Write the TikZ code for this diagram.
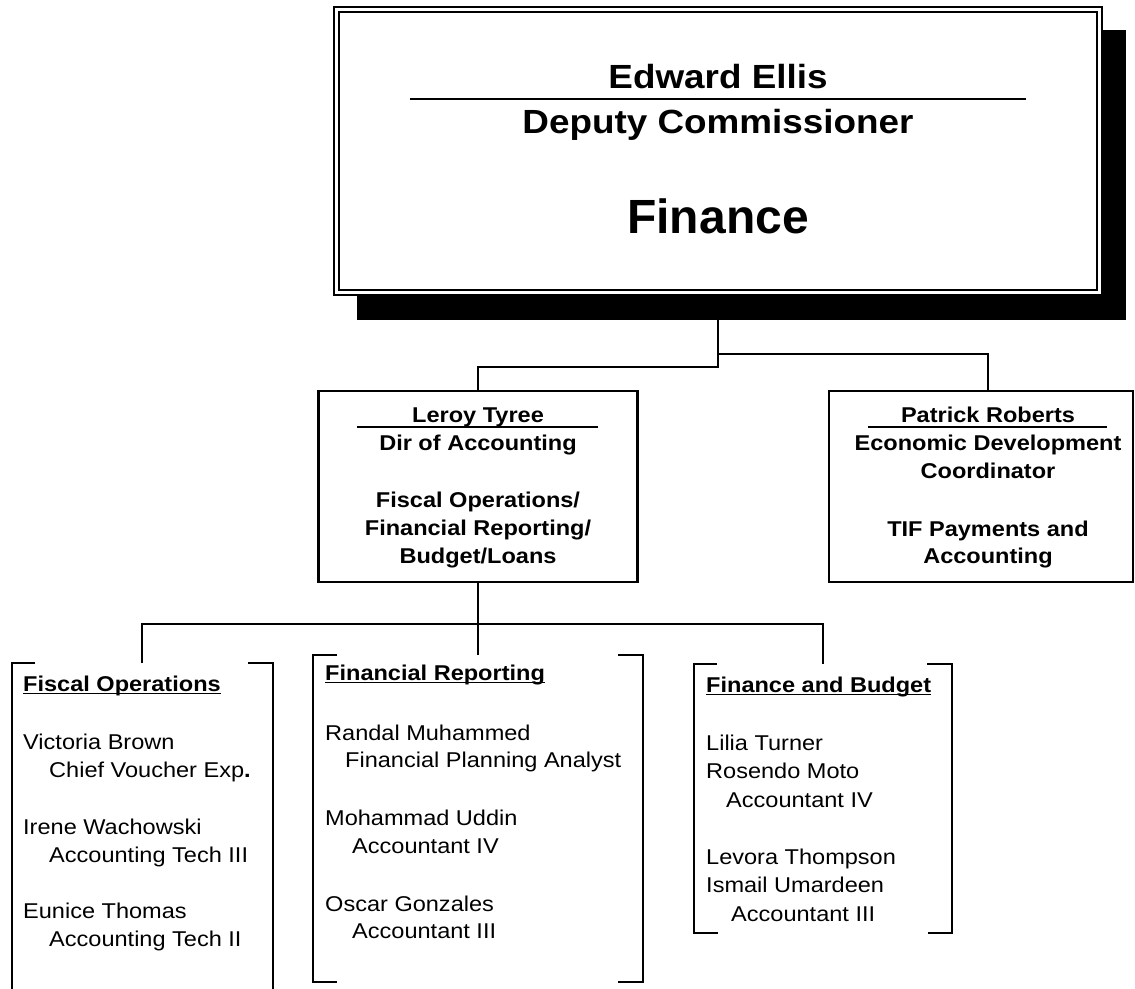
\documentclass[tikz,border=0pt]{standalone}
\usepackage{fontspec}
\setmainfont{Liberation Sans}
\newfontfamily\wf[FakeStretch=1.1]{Liberation Sans}
\begin{document}
\begin{tikzpicture}[x=1pt,y=-1pt,
  ln/.style={line width=2.2pt},
  rl/.style={line width=1.5pt},
  orgbox/.style={draw, line width=2.2pt, fill=white, inner sep=0pt, outer sep=0pt},
  bt/.style={inner sep=0pt, anchor=base, font=\wf\bfseries\fontsize{21.4}{24}\selectfont},
  ht/.style={inner sep=0pt, anchor=base west, font=\wf\bfseries\fontsize{21.4}{24}\selectfont},
  rt/.style={inner sep=0pt, anchor=base west, font=\wf\fontsize{21.4}{24}\selectfont},
  tt/.style={inner sep=0pt, anchor=base, font=\wf\bfseries\fontsize{33.5}{36}\selectfont}]
\useasboundingbox (0,0) rectangle (1135,988);

% ---------- boxes ----------
\node[orgbox, minimum width=319pt, minimum height=191pt] (leroy) at (478,486.5) {};
\node[orgbox, minimum width=304pt, minimum height=191pt] (patrick) at (981,486.5) {};

% ---------- connectors ----------
\coordinate (jl) at (478,367);
\coordinate (jr) at (988,354);
\coordinate (jb) at (478,624);
\coordinate (g1) at (142,663);
\coordinate (g2) at (478,655);
\coordinate (g3) at (823,664);
\coordinate (tb) at (718,300);
\draw[ln] (tb) |- (jl) -- (leroy.north);
\draw[ln] (tb) |- (jr) -- (jr |- patrick.north);
\draw[ln] (leroy.south) -- (jb) -- (g2);
\draw[ln] (g1) |- (jb) -| (g3);

% ---------- top box ----------
\fill (357,30) rectangle (1126,320);
\node[draw, double, line width=1.8pt, double distance=3pt, fill=white,
      minimum width=763pt, minimum height=283pt, inner sep=0pt, outer sep=0pt] (top) at (718,151) {};
\node[tt] (t1) at (718,88) {Edward Ellis};
\draw[rl] (410,99) -- (1026,99);
\node[tt] (t2) at (718,133) {Deputy Commissioner};
\node[inner sep=0pt, anchor=base, font=\bfseries\fontsize{48}{52}\selectfont] (t3) at (718,233) {Finance};

% ---------- Leroy box text ----------
\node[bt] (l1) at (478,422) {Leroy Tyree};
\draw[rl] (357,427) -- (598,427);
\node[bt] (l2) at (478,450) {Dir of Accounting};
\node[bt] (l3) at (478,507) {Fiscal Operations/};
\node[bt] (l4) at (478,535) {Financial Reporting/};
\node[bt] (l5) at (478,563) {Budget/Loans};

% ---------- Patrick box text ----------
\node[bt] (p1) at (988,422) {Patrick Roberts};
\draw[rl] (868,427) -- (1107,427);
\node[bt] (p2) at (988,450) {Economic Development};
\node[bt] (p3) at (988,478) {Coordinator};
\node[bt] (p4) at (988,536) {TIF Payments and};
\node[bt] (p5) at (988,563) {Accounting};

% ---------- brackets ----------
\draw[line width=2pt] (35,663) -- (12,663) -- (12,990);
\draw[line width=2pt] (248,663) -- (273,663) -- (273,990);
\draw[line width=2pt] (337,655) -- (313,655) -- (313,982) -- (337,982);
\draw[line width=2pt] (618,655) -- (643,655) -- (643,982) -- (618,982);
\draw[line width=2pt] (717,664) -- (694,664) -- (694,933) -- (718,933);
\draw[line width=2pt] (927,664) -- (952,664) -- (952,933) -- (928,933);

% ---------- group 1 ----------
\node[ht] (h1) at (23,691) {Fiscal Operations};
\draw[line width=1.3pt] ([yshift=-2.5pt]h1.base west) -- ([yshift=-2.5pt]h1.base east);
\node[rt] (a1) at (23,749) {Victoria Brown};
\node[rt] (a2) at (49,777) {Chief Voucher Exp{\bfseries .}};
\node[rt] (a3) at (23,834) {Irene Wachowski};
\node[rt] (a4) at (49,862) {Accounting Tech III};
\node[rt] (a5) at (23,918) {Eunice Thomas};
\node[rt] (a6) at (49,946) {Accounting Tech II};

% ---------- group 2 ----------
\node[ht] (h2) at (325,680) {Financial Reporting};
\draw[line width=1.3pt] ([yshift=-2.5pt]h2.base west) -- ([yshift=-2.5pt]h2.base east);
\node[rt] (b1) at (325,740) {Randal Muhammed};
\node[rt] (b2) at (345,767) {Financial Planning Analyst};
\node[rt] (b3) at (325,825) {Mohammad Uddin};
\node[rt] (b4) at (352,853) {Accountant IV};
\node[rt] (b5) at (325,911) {Oscar Gonzales};
\node[rt] (b6) at (352,938) {Accountant III};

% ---------- group 3 ----------
\node[ht] (h3) at (706,692) {Finance and Budget};
\draw[line width=1.3pt] ([yshift=-2.5pt]h3.base west) -- ([yshift=-2.5pt]h3.base east);
\node[rt] (c1) at (706,750) {Lilia Turner};
\node[rt] (c2) at (706,778.5) {Rosendo Moto};
\node[rt] (c3) at (726,807) {Accountant IV};
\node[rt] (c4) at (706,864) {Levora Thompson};
\node[rt] (c5) at (706,892.5) {Ismail Umardeen};
\node[rt] (c6) at (731,921) {Accountant III};
\end{tikzpicture}
\end{document}
